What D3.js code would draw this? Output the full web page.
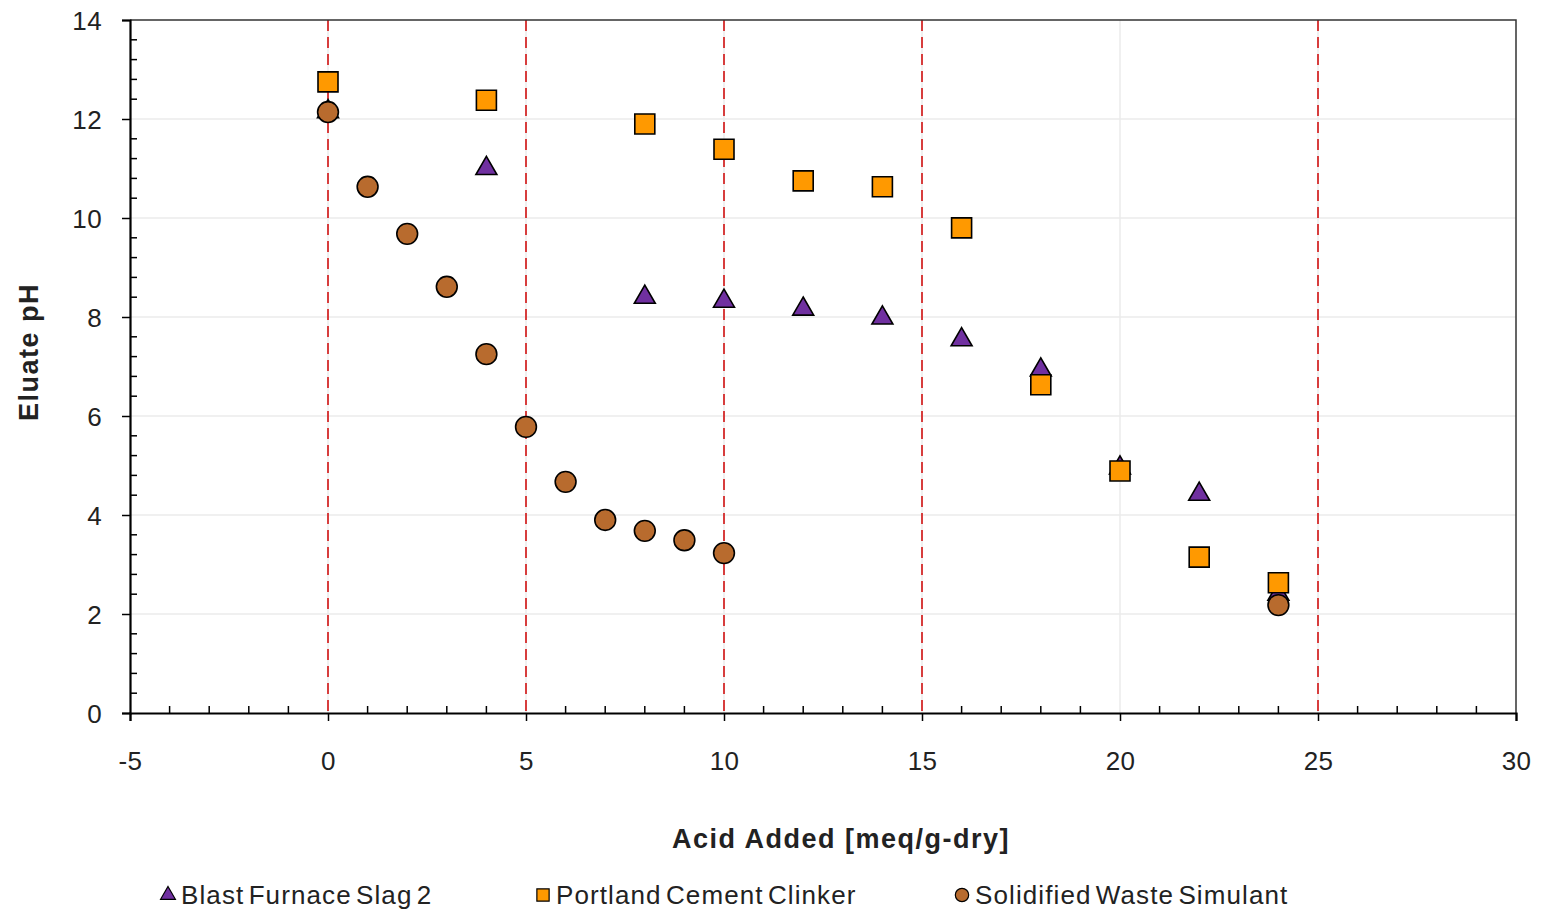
<!DOCTYPE html>
<html><head><meta charset="utf-8">
<script src="https://cdn.jsdelivr.net/npm/d3@7"></script>
<style>body{margin:0;background:#fff}svg{display:block;font-family:"Liberation Sans",Arial,sans-serif}</style>
</head><body><svg id="c" width="1543" height="914"></svg>
<script>
const slagX = [0, 4, 8, 10, 12, 14, 16, 18, 20, 22, 24];
const slagY = [12.15, 11.0, 8.40, 8.32, 8.16, 7.98, 7.54, 6.93, 4.95, 4.42, 2.4];
const clinkerX = [0, 4, 8, 10, 12, 14, 16, 18, 20, 22, 24];
const clinkerY = [12.75, 12.38, 11.90, 11.39, 10.75, 10.63, 9.80, 6.63, 4.89, 3.15, 2.63];
const wasteX = [0, 1, 2, 3, 4, 5, 6, 7, 8, 9, 10, 24];
const wasteY = [12.14, 10.63, 9.68, 8.61, 7.25, 5.78, 4.67, 3.90, 3.68, 3.49, 3.23, 2.18];
const xTicks = [-5, 0, 5, 10, 15, 20, 25, 30];
const yTicks = [0, 2, 4, 6, 8, 10, 12, 14];
const redLines = [0, 5, 10, 15, 25];
const seriesNames = ["Blast Furnace Slag 2", "Portland Cement Clinker", "Solidified Waste Simulant"];

const svg = d3.select("#c");
const L = 130, R = 1516, T = 20, B = 713;
const x = d3.scaleLinear().domain([-5, 30]).range([L, R]);
const y = d3.scaleLinear().domain([0, 14]).range([B, T]);

// gridlines
svg.append("g").selectAll("line").data(yTicks.slice(1, -1)).join("line")
  .attr("x1", L).attr("x2", R).attr("y1", d => y(d)).attr("y2", d => y(d))
  .attr("stroke", "#ebebeb").attr("stroke-width", 1.5);
svg.append("g").selectAll("line").data(xTicks.slice(1, -1)).join("line")
  .attr("y1", T).attr("y2", B).attr("x1", d => x(d)).attr("x2", d => x(d))
  .attr("stroke", "#ebebeb").attr("stroke-width", 1.5);
// red dashed lines
svg.append("g").selectAll("line").data(redLines).join("line")
  .attr("y1", T).attr("y2", B).attr("x1", d => x(d)).attr("x2", d => x(d))
  .attr("stroke", "#d42a2a").attr("stroke-width", 1.8).attr("stroke-dasharray", "11,6");

// border top/right
svg.append("path").attr("d", `M${L},${T}H${R}V${B}`).attr("fill", "none")
  .attr("stroke", "#333").attr("stroke-width", 1.5);

// minor ticks
const xMinor = d3.range(-5, 31, 1).filter(v => v % 5 !== 0);
svg.append("g").selectAll("line").data(xMinor).join("line")
  .attr("x1", d => x(d)).attr("x2", d => x(d)).attr("y1", B).attr("y2", B - 7)
  .attr("stroke", "#000").attr("stroke-width", 1.5);
const yMinor = d3.range(0, 14.01, 0.4).filter(v => Math.abs(v / 2 - Math.round(v / 2)) > 0.01);
svg.append("g").selectAll("line").data(yMinor).join("line")
  .attr("y1", d => y(d)).attr("y2", d => y(d)).attr("x1", L).attr("x2", L + 7)
  .attr("stroke", "#000").attr("stroke-width", 1.5);

// axes
const xAxis = svg.append("g").attr("transform", `translate(0,${B})`)
  .call(d3.axisBottom(x).tickValues(xTicks).tickSize(8).tickPadding(31).tickFormat(d => String(d)));
const yAxis = svg.append("g").attr("transform", `translate(${L},0)`)
  .call(d3.axisLeft(y).tickValues(yTicks).tickSize(8).tickPadding(20).tickFormat(d => String(d)));
[xAxis, yAxis].forEach(a => {
  a.select(".domain").attr("stroke", "#000").attr("stroke-width", 2.2);
  a.selectAll(".tick line").attr("stroke", "#000").attr("stroke-width", 1.5);
  a.selectAll(".tick text").attr("font-size", 26).attr("fill", "#222").attr("letter-spacing", 0.4)
    .attr("font-family", "'Liberation Sans', Arial, sans-serif");
});
xAxis.selectAll(".tick text").attr("dy", "0.71em");
yAxis.selectAll(".tick text").attr("dy", "0.36em");

// axis titles
svg.append("text").attr("x", 841).attr("y", 848).attr("text-anchor", "middle")
  .attr("font-size", 27).attr("font-weight", "bold").attr("fill", "#222").attr("letter-spacing", 1.5)
  .text("Acid Added [meq/g-dry]");
svg.append("text").attr("transform", `translate(38,352) rotate(-90)`).attr("text-anchor", "middle")
  .attr("font-size", 27).attr("font-weight", "bold").attr("fill", "#222").attr("letter-spacing", 1.5)
  .text("Eluate pH");

// markers
const tri = d3.symbol().type(d3.symbolTriangle).size(190);
const sq = d3.symbol().type(d3.symbolSquare).size(400);
const circ = d3.symbol().type(d3.symbolCircle).size(340);
const slag = slagX.map((v, i) => [v, slagY[i]]);
const clinker = clinkerX.map((v, i) => [v, clinkerY[i]]);
const waste = wasteX.map((v, i) => [v, wasteY[i]]);
svg.append("g").selectAll("path").data(slag).join("path")
  .attr("d", tri).attr("transform", d => `translate(${x(d[0])},${y(d[1])})`)
  .attr("fill", "#7030a0").attr("stroke", "#000").attr("stroke-width", 1.6);
svg.append("g").selectAll("path").data(clinker).join("path")
  .attr("d", sq).attr("transform", d => `translate(${x(d[0])},${y(d[1])})`)
  .attr("fill", "#ff9900").attr("stroke", "#000").attr("stroke-width", 1.6);
svg.append("g").selectAll("path").data(waste).join("path")
  .attr("d", circ).attr("transform", d => `translate(${x(d[0])},${y(d[1])})`)
  .attr("fill", "#b86b2e").attr("stroke", "#000").attr("stroke-width", 1.6);

// legend
const legX = [168, 543, 962];
const legSyms = [
  { s: d3.symbol().type(d3.symbolTriangle).size(95), f: "#7030a0" },
  { s: d3.symbol().type(d3.symbolSquare).size(150), f: "#ff9900" },
  { s: d3.symbol().type(d3.symbolCircle).size(140), f: "#b86b2e" }
];
const leg = svg.append("g");
seriesNames.forEach((n, i) => {
  leg.append("path").attr("d", legSyms[i].s).attr("transform", `translate(${legX[i]},${895})`)
    .attr("fill", legSyms[i].f).attr("stroke", "#000").attr("stroke-width", 1.2);
  leg.append("text").attr("x", legX[i] + 13).attr("y", 904).attr("font-size", 26)
    .attr("fill", "#222").attr("letter-spacing", 1.1).attr("word-spacing", -4).text(n);
});
</script></body></html>
